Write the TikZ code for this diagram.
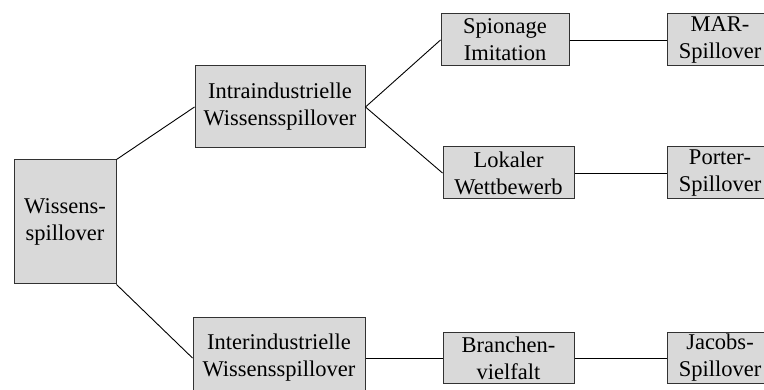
\documentclass[tikz,border=0pt]{standalone}
\usepackage{fontspec}
\setmainfont{Liberation Serif}
\definecolor{boxfill}{RGB}{217,217,217}
\definecolor{boxline}{RGB}{50,50,50}
\begin{document}
\begin{tikzpicture}[x=1pt,y=-1pt,
  box/.style={draw=boxline,fill=boxfill,line width=1pt,inner sep=0pt,
    align=center,font=\fontsize{22.5}{27}\selectfont},
  conn/.style={draw=black,line width=0.9pt}]
\useasboundingbox (0,0) rectangle (764,390);
\clip (0,0) rectangle (764,390);
\node[box,minimum width=102pt,minimum height=124pt] (w) at (65,222) {Wissens-\\spillover};
\node[box,minimum width=170pt,minimum height=82pt] (intra) at (280,107) {Intraindustrielle\\Wissensspillover};
\node[box,minimum width=172pt,minimum height=80pt] (inter) at (279,358) {Interindustrielle\\Wissensspillover};
\node[box,minimum width=128pt,minimum height=52pt] (spi) at (505,40) {Spionage\\Imitation};
\node[box,minimum width=131pt,minimum height=52pt] (lok) at (508.5,173) {Lokaler\\Wettbewerb};
\node[box,minimum width=131pt,minimum height=51pt] (bra) at (508.5,358) {Branchen-\\vielfalt};
\node[box,minimum width=106pt,minimum height=52pt] (mar) at (720,40) {MAR-\\Spillover};
\node[box,minimum width=106pt,minimum height=52pt] (por) at (720,173) {Porter-\\Spillover};
\node[box,minimum width=106pt,minimum height=51pt] (jac) at (720,358) {Jacobs-\\Spillover};
\draw[conn] (w.north east) -- (intra.west);
\draw[conn] (w.south east) -- (inter.west);
\draw[conn] (intra.east) -- (spi.west);
\draw[conn] (intra.east) -- (lok.west);
\draw[conn] (spi.east) -- (mar.west);
\draw[conn] (lok.east) -- (por.west);
\draw[conn] (inter.east) -- (bra.west);
\draw[conn] (bra.east) -- (jac.west);
\end{tikzpicture}
\end{document}
